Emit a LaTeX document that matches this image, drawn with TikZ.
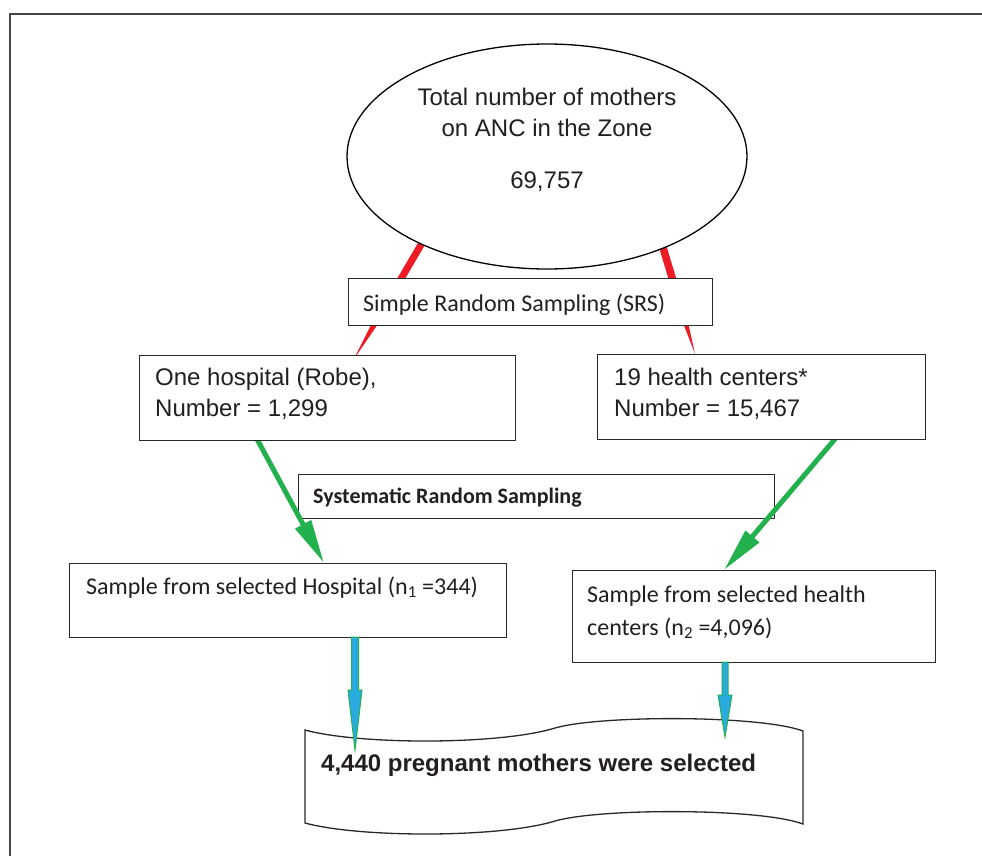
\documentclass[tikz,border=0pt]{standalone}
\usepackage{fontspec}
\setmainfont{Liberation Sans}
\newfontfamily\calfont{Carlito}
\usetikzlibrary{shapes.geometric,arrows.meta,calc}
\definecolor{redw}{RGB}{237,28,36}
\definecolor{greenA}{RGB}{34,177,76}
\definecolor{blueA}{RGB}{41,171,226}
\definecolor{frameC}{RGB}{70,70,70}
\definecolor{boxC}{RGB}{40,40,40}
\definecolor{txtC}{RGB}{35,31,32}
\begin{document}
\begin{tikzpicture}[x=1pt,y=-1pt,
  box/.style={draw=boxC,line width=1.3pt,fill=white,inner sep=0pt,anchor=north west},
  arialtxt/.style={font=\fontsize{24}{28}\selectfont,text=txtC,inner sep=0pt,anchor=base west},
  caltxt/.style={font=\calfont\fontsize{24}{28}\selectfont,text=txtC,inner sep=0pt,anchor=base west},
  calbold/.style={font=\calfont\bfseries\fontsize{22}{26}\selectfont,text=txtC,inner sep=0pt,anchor=base west},
  greenarrow/.style={greenA,line width=5pt,-{Triangle[length=44pt,width=17pt]}},
  bluearrow/.style={fill=blueA,draw=greenA,line width=1pt},
  wedge/.style={fill=redw,draw=none}]
\useasboundingbox (0,0) rectangle (982,856);
% outer frame
\draw[frameC,line width=2pt] (9.5,14) rectangle (1010,900);

% red tapering connectors (behind ellipse and SRS box)
\coordinate (rla) at (429.0,224.2);
\coordinate (rlb) at (435.0,227.8);
\coordinate (rlc) at (382.3,317.7);
\coordinate (rld) at (376.3,314.1);
\coordinate (rltip) at (354,359);
\fill[wedge] (rla) -- (rlb) -- (rlc) -- (rltip) -- (rld) -- cycle;
\coordinate (rra) at (654.4,232.1);
\coordinate (rrb) at (661.6,229.9);
\coordinate (rrc) at (684.2,305.0);
\coordinate (rrd) at (677.0,307.2);
\coordinate (rrtip) at (695,354);
\fill[wedge] (rra) -- (rrb) -- (rrc) -- (rrtip) -- (rrd) -- cycle;

% ellipse
\node[ellipse,draw=black,line width=1.3pt,fill=white,minimum width=400,minimum height=225,inner sep=0pt] (ell) at (547,156.5) {};
\node[arialtxt,anchor=base] (e1) at (547,105.5) {Total number of mothers};
\node[arialtxt,anchor=base] (e2) at (547,136.5) {on ANC in the Zone};
\node[arialtxt,anchor=base] (e3) at (547,188.5) {69,757};

% SRS box
\node[box,minimum width=364,minimum height=47] (srs) at (348,278) {};
\node[caltxt] (srst) at ($(srs.north west)+(15,33)$) {Simple Random Sampling (SRS)};

% systematic box
\node[box,minimum width=476,minimum height=44] (sys) at (298,474) {};
\node[calbold] (syst) at ($(sys.north west)+(15,29)$) {Systematic Random Sampling};

% sample boxes
\node[box,minimum width=437,minimum height=74] (sh) at (69,563) {};
\node[caltxt] (sht) at ($(sh.north west)+(17,31)$) {Sample from selected Hospital (n\textsubscript{1} =344)};
\node[box,minimum width=363,minimum height=92] (sc) at (572,570) {};
\node[caltxt] (sct1) at ($(sc.north west)+(15,32)$) {Sample from selected health};
\node[caltxt] (sct2) at ($(sc.north west)+(15,65)$) {centers (n\textsubscript{2} =4,096)};

% green arrows
\coordinate (gl0) at (254.6,434.6);
\coordinate (gl1) at (324,563);
\coordinate (gr0) at (838.2,435.2);
\coordinate (gr1) at (724,570);
\draw[greenarrow] (gl0) -- (gl1);
\draw[greenarrow] (gr0) -- (gr1);

% hospital and health center boxes
\node[box,minimum width=376,minimum height=85] (hosp) at (139,355) {};
\node[arialtxt] (ht1) at ($(hosp.north west)+(16,30.5)$) {One hospital (Robe),};
\node[arialtxt] (ht2) at ($(hosp.north west)+(16,61.5)$) {Number = 1,299};
\node[box,minimum width=328,minimum height=85] (hc) at (597,354) {};
\node[arialtxt] (hct1) at ($(hc.north west)+(17,31.5)$) {19 health centers*};
\node[arialtxt] (hct2) at ($(hc.north west)+(17,62.5)$) {Number = 15,467};

% final tape shape
\draw[draw=boxC,line width=1.3pt,fill=white]
  (305,730) .. controls (360,745) and (500,745) .. (555,728)
  .. controls (600,715) and (760,715) .. (803,731)
  -- (803,824) .. controls (760,808) and (600,808) .. (555,821)
  .. controls (500,838) and (360,838) .. (305,823) -- cycle;
\node[arialtxt,font=\bfseries\fontsize{24}{28}\selectfont] (fin) at (321,771.5) {4,440 pregnant mothers were selected};

% blue block arrows
\draw[bluearrow] (351.5,637) -- (358.5,637) -- (358.5,690) -- (362,690) -- (355,750) -- (348,690) -- (351.5,690) -- cycle;
\draw[bluearrow] (722,662) -- (728,662) -- (728,695) -- (732,695) -- (725,737) -- (718,695) -- (722,695) -- cycle;
\end{tikzpicture}
\end{document}
